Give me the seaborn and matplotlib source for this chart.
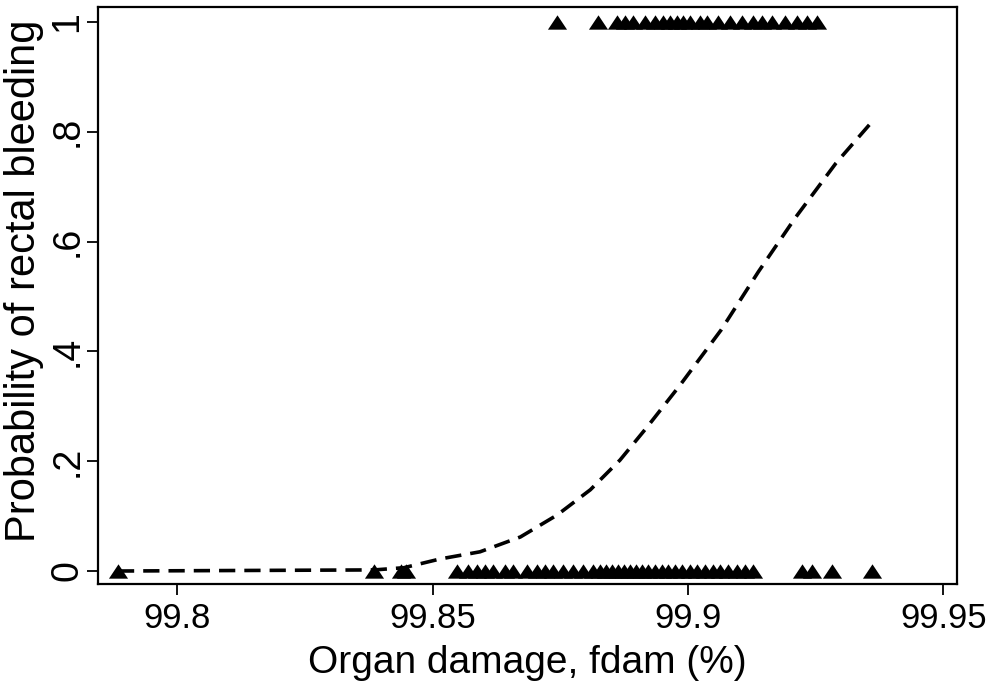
import numpy as np
import pandas as pd
import seaborn as sns
import matplotlib.pyplot as plt

# Observed organ damage (%) for patients with and without rectal bleeding
fdam_bleed = [99.8744, 99.8824, 99.8862, 99.8877, 99.8893, 99.8916, 99.8936,
              99.8952, 99.8965, 99.8979, 99.8991, 99.9005, 99.9024, 99.9038,
              99.9059, 99.9083, 99.9106, 99.9128, 99.9146, 99.9165, 99.9191,
              99.9214, 99.9234, 99.9253]
fdam_nobleed = [99.7884, 99.8386, 99.8439, 99.8448, 99.8548, 99.8570, 99.8587,
                99.8603, 99.8619, 99.8642, 99.8658, 99.8685, 99.8705, 99.8721,
                99.8736, 99.8756, 99.8775, 99.8795, 99.8815, 99.8828, 99.8840,
                99.8852, 99.8864, 99.8875, 99.8887, 99.8899, 99.8911, 99.8922,
                99.8936, 99.8950, 99.8961, 99.8975, 99.8989, 99.9005, 99.9018,
                99.9034, 99.9050, 99.9063, 99.9079, 99.9097, 99.9112, 99.9128,
                99.9224, 99.9243, 99.9283, 99.9361]

# Fitted probability
fit_x = [99.7884, 99.8386, 99.8444, 99.8515, 99.8593, 99.8672, 99.8744, 99.8809,
         99.8867, 99.8920, 99.8985, 99.9065, 99.9138, 99.9210, 99.9290, 99.9363]
fit_p = [0.000, 0.002, 0.006, 0.022, 0.035, 0.062, 0.102, 0.148,
         0.202, 0.262, 0.339, 0.439, 0.545, 0.643, 0.743, 0.821]

x_ticks = [99.8, 99.85, 99.9, 99.95]
x_ticklabels = ["99.8", "99.85", "99.9", "99.95"]
y_ticks = [0, 0.2, 0.4, 0.6, 0.8, 1]
y_ticklabels = ["0", ".2", ".4", ".6", ".8", "1"]

obs = pd.DataFrame({
    "fdam": fdam_bleed + fdam_nobleed,
    "bleed": [1] * len(fdam_bleed) + [0] * len(fdam_nobleed),
})
fit = pd.DataFrame({"fdam": fit_x, "p": fit_p})

sns.set_style("ticks")
plt.rcParams["font.family"] = ["Liberation Sans", "DejaVu Sans"]
plt.rcParams["text.color"] = "black"
plt.rcParams["axes.labelcolor"] = "black"
plt.rcParams["xtick.color"] = "black"
plt.rcParams["ytick.color"] = "black"

fig = plt.figure(figsize=(9.9, 6.81), dpi=100)
ax = fig.add_axes([0.099, 0.1424, 0.8677, 0.8473])

tri = [(-1, -0.75), (1, -0.75), (0, 0.75)]
sns.scatterplot(data=obs, x="fdam", y="bleed", marker=tri, s=190,
                color="black", edgecolor="black", linewidth=0, ax=ax,
                legend=False, zorder=3)
sns.lineplot(data=fit, x="fdam", y="p", color="black", lw=2.6,
             linestyle=(0, (4.5, 2.5)), sort=False, estimator=None, ax=ax)

ax.set_xlim(99.7845, 99.9527)
ax.set_ylim(-0.0237, 1.0273)

ax.set_xticks(x_ticks)
ax.set_xticklabels(x_ticklabels, fontsize=25)
ax.set_yticks(y_ticks)
ax.set_yticklabels(y_ticklabels, fontsize=27, rotation=90, va="center")

ax.tick_params(axis="both", direction="out", length=8, width=1.3,
               color="black")
ax.tick_params(axis="x", pad=5)
ax.tick_params(axis="y", pad=1)
ax.set_xlabel("Organ damage, fdam (%)", fontsize=28, va="bottom")
ax.xaxis.set_label_coords(0.5, -0.1675)
ax.set_ylabel("Probability of rectal bleeding", fontsize=30, va="center")
ax.yaxis.set_label_coords(-0.086, 0.525)

for s in ax.spines.values():
    s.set_visible(True)
    s.set_linewidth(1.6)
    s.set_color("black")

fig.savefig("out.png", dpi=100)
